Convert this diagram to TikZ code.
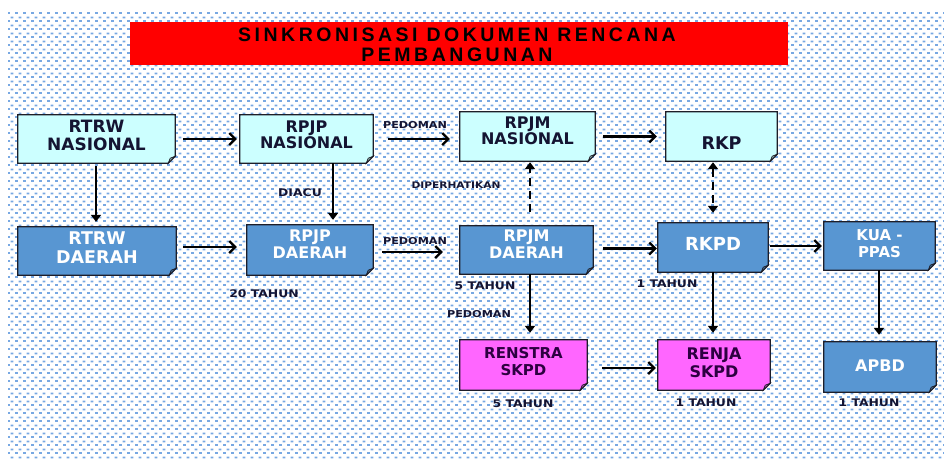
\documentclass[tikz,border=0pt]{standalone}
\usepackage{fontspec}
\usetikzlibrary{arrows.meta,patterns.meta}
\setmainfont{DejaVu Sans}
\newfontfamily\boxfont{DejaVu Sans}
\newfontfamily\labfont{DejaVu Sans}[FakeStretch=1.18]
\newfontfamily\titlefont{Liberation Sans}[LetterSpace=18]
\definecolor{cyanbox}{RGB}{204,255,255}
\definecolor{bluebox}{RGB}{88,150,210}
\definecolor{magbox}{RGB}{255,102,255}
\definecolor{boxline}{RGB}{30,30,40}
\definecolor{dotblue}{RGB}{120,168,226}
\definecolor{darktxt}{RGB}{20,20,50}
\definecolor{magtxt}{RGB}{45,0,65}
\definecolor{titlered}{RGB}{255,0,0}
\pgfdeclarelayer{back}
\pgfdeclarelayer{mid}
\pgfsetlayers{back,mid,main}
\tikzdeclarepattern{
  name=bgdots, type=uncolored,
  bottom left={(0pt,0pt)}, top right={(7.5pt,8pt)},
  tile size={(7.5pt,8pt)},
  code={\fill (0pt,0pt) rectangle (3pt,2pt);
        \fill (3.75pt,4pt) rectangle (6.75pt,6pt);}}
\newcommand\docshape[2]{%
  \filldraw[fill=#2, draw=boxline, line width=1.3pt, line join=miter]
    (#1.north west) -- (#1.north east) -- ([yshift=7pt]#1.south east)
    -- ([xshift=-7pt]#1.south east) -- (#1.south west) -- cycle;
  \filldraw[fill=#2!70!black, draw=boxline, line width=0.7pt]
    ([yshift=7pt]#1.south east) -- ([xshift=-7pt]#1.south east)
    -- ([xshift=-5pt,yshift=5pt]#1.south east) -- cycle;}
\tikzset{
  boxn/.style={inner sep=0pt, minimum width=#1},
  txt/.style={align=center, inner sep=0pt},
  lab/.style={inner sep=0pt, font=\labfont\bfseries\fontsize{10.5}{12}\selectfont, text=darktxt},
  harr/.style={line width=2.2pt, draw=black, -{Straight Barb[length=6pt,width=12pt]}},
  varr/.style={line width=2.2pt, draw=black, -{Triangle[length=7pt,width=10pt]}},
  darr/.style={line width=2.2pt, draw=black, dash pattern=on 8pt off 5pt, -{Triangle[length=7pt,width=10pt]}},
  ddarr/.style={line width=2.2pt, draw=black, dash pattern=on 8pt off 5pt, {Triangle[length=7pt,width=10pt]}-{Triangle[length=7pt,width=10pt]}}
}
\begin{document}
\begin{tikzpicture}[x=1pt,y=-1pt]
\useasboundingbox (0,0) rectangle (944,461);
\begin{pgfonlayer}{back}
  \fill[white] (0,0) rectangle (944,461);
  \fill[pattern=bgdots, pattern color=dotblue] (8,12) rectangle (944,458);
  \fill[titlered] (130,22) rectangle (788,65);
\end{pgfonlayer}

% title
\node[txt, font=\titlefont\bfseries\fontsize{19.5}{20}\selectfont] (title) at (457,44.5) {SINKRONISASI DOKUMEN RENCANA\\PEMBANGUNAN};

% boxes
\node[boxn=157pt, minimum height=48pt] (rtrwn) at (96.5,139) {};
\node[boxn=133pt, minimum height=48pt] (rpjpn) at (306.5,139) {};
\node[boxn=135pt, minimum height=49pt] (rpjmn) at (527.5,136.5) {};
\node[boxn=111pt, minimum height=49pt] (rkp) at (721.5,136.5) {};
\node[boxn=158pt, minimum height=48pt] (rtrwd) at (97,251) {};
\node[boxn=126pt, minimum height=50pt] (rpjpd) at (310,250) {};
\node[boxn=133pt, minimum height=48pt] (rpjmd) at (526.5,250) {};
\node[boxn=110pt, minimum height=49pt] (rkpd) at (713,247.5) {};
\node[boxn=111pt, minimum height=48pt] (kua) at (879.5,246) {};
\node[boxn=127pt, minimum height=50pt] (renstra) at (523.5,365) {};
\node[boxn=112pt, minimum height=50pt] (renja) at (714,365) {};
\node[boxn=112pt, minimum height=50pt] (apbd) at (880,367) {};

\begin{pgfonlayer}{mid}
  \docshape{rtrwn}{cyanbox}
  \docshape{rpjpn}{cyanbox}
  \docshape{rpjmn}{cyanbox}
  \docshape{rkp}{cyanbox}
  \docshape{rtrwd}{bluebox}
  \docshape{rpjpd}{bluebox}
  \docshape{rpjmd}{bluebox}
  \docshape{rkpd}{bluebox}
  \docshape{kua}{bluebox}
  \docshape{renstra}{magbox}
  \docshape{renja}{magbox}
  \docshape{apbd}{bluebox}
\end{pgfonlayer}

% box texts
\node[txt, text=darktxt, font=\boxfont\bfseries\fontsize{17}{18}\selectfont] (trtrwn) at (96.5,135) {RTRW\\NASIONAL};
\node[txt, text=darktxt, font=\boxfont\bfseries\fontsize{16}{16.5}\selectfont] (trpjpn) at (306.5,135) {RPJP\\NASIONAL};
\node[txt, text=darktxt, font=\boxfont\bfseries\fontsize{16}{16.5}\selectfont] (trpjmn) at (527.5,131) {RPJM\\NASIONAL};
\node[txt, text=darktxt, font=\boxfont\bfseries\fontsize{17.5}{18}\selectfont] (trkp) at (721.5,143) {RKP};
\node[txt, text=white, font=\boxfont\bfseries\fontsize{17.5}{19}\selectfont] (trtrwd) at (97,247.5) {RTRW\\DAERAH};
\node[txt, text=white, font=\boxfont\bfseries\fontsize{16}{17}\selectfont] (trpjpd) at (310,244.5) {RPJP\\DAERAH};
\node[txt, text=white, font=\boxfont\bfseries\fontsize{16}{17}\selectfont] (trpjmd) at (526.5,244.5) {RPJM\\DAERAH};
\node[txt, text=white, font=\boxfont\bfseries\fontsize{18}{19}\selectfont] (trkpd) at (713,244) {RKPD};
\node[txt, text=white, font=\boxfont\bfseries\fontsize{15}{17}\selectfont] (tkua) at (879.5,243.5) {KUA -\\PPAS};
\node[txt, text=magtxt, font=\boxfont\bfseries\fontsize{15}{17}\selectfont] (trenstra) at (523.5,362) {RENSTRA\\SKPD};
\node[txt, text=magtxt, font=\boxfont\bfseries\fontsize{16}{18}\selectfont] (trenja) at (714,363) {RENJA\\SKPD};
\node[txt, text=white, font=\boxfont\bfseries\fontsize{16}{17}\selectfont] (tapbd) at (880,365.5) {APBD};

% labels
\node[lab, font=\labfont\bfseries\fontsize{9.5}{11}\selectfont] (lped1) at (415,125) {PEDOMAN};
\node[lab] (ldiacu) at (300,193) {DIACU};
\node[lab, font=\labfont\bfseries\fontsize{9.5}{11}\selectfont] (lped2) at (415,241) {PEDOMAN};
\node[lab, font=\labfont\bfseries\fontsize{9}{11}\selectfont] (ldiper) at (456,185) {DIPERHATIKAN};
\node[lab] (l20) at (264,294) {20 TAHUN};
\node[lab] (l5a) at (485,286) {5 TAHUN};
\node[lab] (l1a) at (667,284) {1 TAHUN};
\node[lab, font=\labfont\bfseries\fontsize{9.5}{11}\selectfont] (lped3) at (479,314) {PEDOMAN};
\node[lab] (l5b) at (523,404) {5 TAHUN};
\node[lab] (l1b) at (706,403) {1 TAHUN};
\node[lab] (l1c) at (869,403) {1 TAHUN};

% connectors
\draw[harr, shorten <=8pt, shorten >=3pt] (rtrwn.east) -- (rpjpn.west);
\draw[harr, shorten <=15pt, shorten >=10pt] (rpjpn.east) -- (rpjpn.east -| rpjmn.west);
\draw[harr, shorten <=8pt, shorten >=9pt] (rpjmn.east) -- (rkp.west);
\draw[varr, shorten <=3pt, shorten >=5pt] ([xshift=-0.5pt]rtrwn.south) -- ([xshift=-0.5pt]rtrwn.south |- rtrwd.north);
\draw[varr, shorten >=5pt] ([xshift=26.5pt]rpjpn.south) -- ([xshift=26.5pt]rpjpn.south |- rpjpd.north);
\draw[harr, shorten <=7pt, shorten >=10pt] ([yshift=4pt]rtrwd.east) -- ([yshift=4pt]rtrwd.east -| rpjpd.west);
\draw[harr, shorten <=9pt, shorten >=17pt] ([yshift=-2pt]rpjpd.east) -- ([yshift=-2pt]rpjpd.east -| rpjmd.west);
\draw[darr, shorten <=14pt, shorten >=1pt] ([xshift=3.5pt]rpjmd.north) -- ([xshift=3.5pt]rpjmd.north |- rpjmn.south);
\draw[ddarr, shorten <=1pt, shorten >=10pt] (rkpd.north |- rkp.south) -- (rkpd.north);
\draw[harr, shorten <=10pt, shorten >=1pt] ([yshift=1.5pt]rpjmd.east) -- ([yshift=1.5pt]rpjmd.east -| rkpd.west);
\draw[harr, shorten <=2pt, shorten >=2pt] ([yshift=1.5pt]rkpd.east) -- ([yshift=1.5pt]rkpd.east -| kua.west);
\draw[varr, shorten >=7pt] ([xshift=3.5pt]rpjmd.south) -- ([xshift=3.5pt]rpjmd.south |- renstra.north);
\draw[varr, shorten >=7pt] (rkpd.south) -- (rkpd.south |- renja.north);
\draw[varr, shorten >=7pt] ([xshift=-0.5pt]kua.south) -- ([xshift=-0.5pt]kua.south |- apbd.north);
\draw[harr, shorten <=15pt, shorten >=2pt] ([yshift=-3pt]renstra.east) -- ([yshift=-3pt]renstra.east -| renja.west);
\end{tikzpicture}
\end{document}
